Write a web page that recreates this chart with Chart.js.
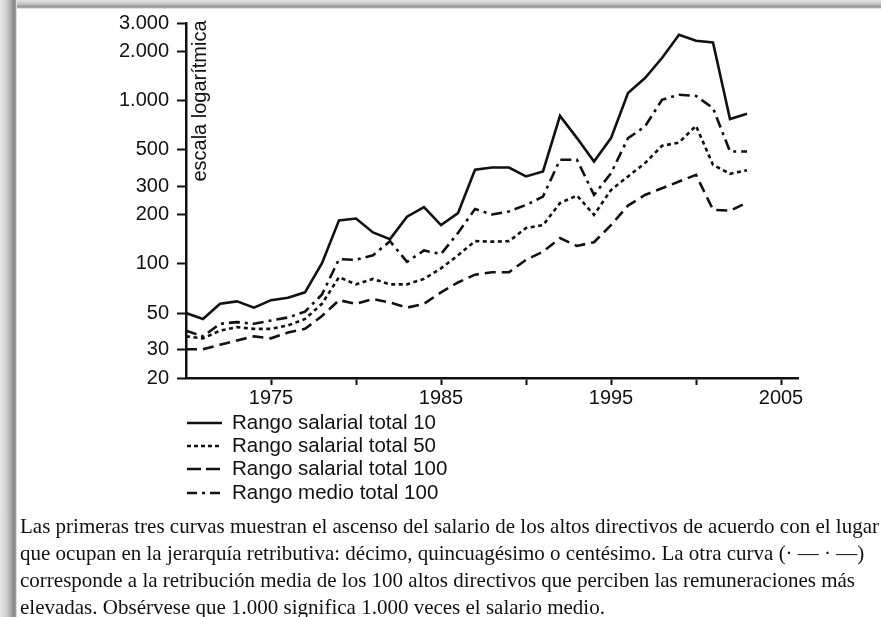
<!DOCTYPE html>
<html>
<head>
<meta charset="utf-8">
<script src="https://cdn.jsdelivr.net/npm/chart.js@4.4.1/dist/chart.umd.min.js"></script>
<style>
html,body{margin:0;padding:0;background:#fff;width:881px;height:617px;overflow:hidden;}
#wrap{position:relative;width:881px;height:617px;overflow:hidden;}
#c{position:absolute;left:0;top:0;}
#caption{position:absolute;left:20px;top:513px;font-family:"Liberation Serif","Times New Roman",serif;font-size:21px;line-height:27px;white-space:nowrap;color:#111;}
#lb{position:absolute;left:0;top:0;width:17px;height:617px;background:linear-gradient(to right,#e6e6e6 0px,#d2d2d2 6px,#a8a8a8 11px,#858585 14px,#9a9a9a 15.5px,#ffffff 17px);}
#tb{position:absolute;left:0;top:0;width:881px;height:9px;background:linear-gradient(to bottom,#e4e4e4 0px,#c4c4c4 4px,#8e8e8e 7px,#ffffff 9px);}
</style>
</head>
<body>
<div id="wrap">
<canvas id="c" width="881" height="617"></canvas>
<div id="caption">
<div>Las primeras tres curvas muestran el ascenso del salario de los altos directivos de acuerdo con el lugar</div>
<div>que ocupan en la jerarquía retributiva: décimo, quincuagésimo o centésimo. La otra curva (· — · —)</div>
<div>corresponde a la retribución media de los 100 altos directivos que perciben las remuneraciones más</div>
<div>elevadas. Obsérvese que 1.000 significa 1.000 veces el salario medio.</div>
</div>
<div id="tb"></div>
<div id="lb"></div>
</div>
<script>
const years = [1970,1971,1972,1973,1974,1975,1976,1977,1978,1979,1980,1981,1982,1983,1984,1985,1986,1987,1988,1989,1990,1991,1992,1993,1994,1995,1996,1997,1998,1999,2000,2001,2002,2003];
const rango10  = [50,46,57,59,54,60,62,67,101,185,190,156,142,195,223,173,205,378,390,390,344,369,809,591,425,591,1116,1380,1829,2543,2336,2281,773,833];
const rango50  = [36,35,39,41,40,40,42,46,57,83,75,81,75,75,81,94,113,138,137,138,166,173,236,263,200,284,344,415,530,555,703,405,357,375];
const rango100 = [30,30,32,34,36,35,38,40,48,60,57,61,58,54,57,67,77,86,89,89,106,119,144,129,136,173,228,265,291,320,352,215,212,238];
const medio100 = [39,36,43,44,43,45,47,51,65,107,106,113,138,103,121,115,155,217,201,210,230,259,435,435,265,360,590,696,1015,1089,1072,903,489,489];
const seriesNames = ['Rango salarial total 10','Rango salarial total 50','Rango salarial total 100','Rango medio total 100'];
const yTickValues = [20,30,50,100,200,300,500,1000,2000,3000];
const yTickLabels = ['20','30','50','100','200','300','500','1.000','2.000','3.000'];
const xTickValues = [1975,1980,1985,1990,1995,2000,2005];
const xTickLabels = ['1975','','1985','','1995','','2005'];
const axisTitle = 'escala logarítmica';

const INK = '#111';
const SANS = '"Liberation Sans", Arial, sans-serif';
const toPts = arr => years.map((yr,i)=>({x:yr,y:arr[i]}));
const styles = [
  {dash:[], legendDash:[]},
  {dash:[4,3.5], legendDash:[4,3]},
  {dash:[11,6], legendDash:[14,5]},
  {dash:[11,5,3,5], legendDash:[10,5,3,5]}
];
const seriesData = [rango10, rango50, rango100, medio100];

const extras = {
  id:'extras',
  afterDraw(chart){
    const ctx = chart.ctx;
    ctx.save();
    ctx.translate(200, 101);
    ctx.rotate(-Math.PI/2);
    ctx.font = '20px ' + SANS;
    ctx.fillStyle = INK;
    ctx.textAlign = 'center';
    ctx.textBaseline = 'middle';
    ctx.fillText(axisTitle, 0, 0);
    ctx.restore();
    const rows = [423,446,469,493];
    chart.data.datasets.forEach((ds,i)=>{
      ctx.save();
      ctx.strokeStyle = INK;
      ctx.lineWidth = 2.5;
      ctx.setLineDash(styles[i].legendDash);
      ctx.beginPath();
      ctx.moveTo(187, rows[i]);
      ctx.lineTo(222, rows[i]);
      ctx.stroke();
      ctx.setLineDash([]);
      ctx.font = '20.5px ' + SANS;
      ctx.fillStyle = INK;
      ctx.textAlign = 'left';
      ctx.textBaseline = 'middle';
      ctx.fillText(ds.label, 232, rows[i]);
      ctx.restore();
    });
  }
};

new Chart(document.getElementById('c'), {
  type:'line',
  data:{
    datasets: seriesData.map((arr,i)=>({
      label: seriesNames[i],
      data: toPts(arr),
      borderColor: INK,
      borderWidth: 2.6,
      borderDash: styles[i].dash,
      pointRadius: 0,
      tension: 0,
      fill: false
    }))
  },
  options:{
    responsive:false,
    animation:false,
    devicePixelRatio:1,
    layout:{padding:{left:0,right:83,top:23,bottom:199}},
    plugins:{legend:{display:false},tooltip:{enabled:false}},
    scales:{
      x:{
        type:'linear', min:1970, max:2006,
        afterBuildTicks:s=>{s.ticks = xTickValues.map(v=>({value:v}));},
        afterFit:s=>{s.height = 40;},
        ticks:{callback:(v,i)=>xTickLabels[i], font:{family:SANS,size:20}, color:INK, maxRotation:0, autoSkip:false, padding:1},
        grid:{drawOnChartArea:false, drawTicks:true, tickLength:7, tickColor:INK, tickWidth:2},
        border:{display:true, color:INK, width:2.5}
      },
      y:{
        type:'logarithmic', min:20, max:3000,
        afterBuildTicks:s=>{s.ticks = yTickValues.map(v=>({value:v}));},
        afterFit:s=>{s.width = 186;},
        ticks:{callback:(v,i)=>yTickLabels[i], font:{family:SANS,size:20}, color:INK, autoSkip:false, padding:8},
        grid:{drawOnChartArea:false, drawTicks:true, tickLength:9, tickColor:INK, tickWidth:2},
        border:{display:true, color:INK, width:2.5}
      }
    }
  },
  plugins:[extras]
});
</script>
</body>
</html>
